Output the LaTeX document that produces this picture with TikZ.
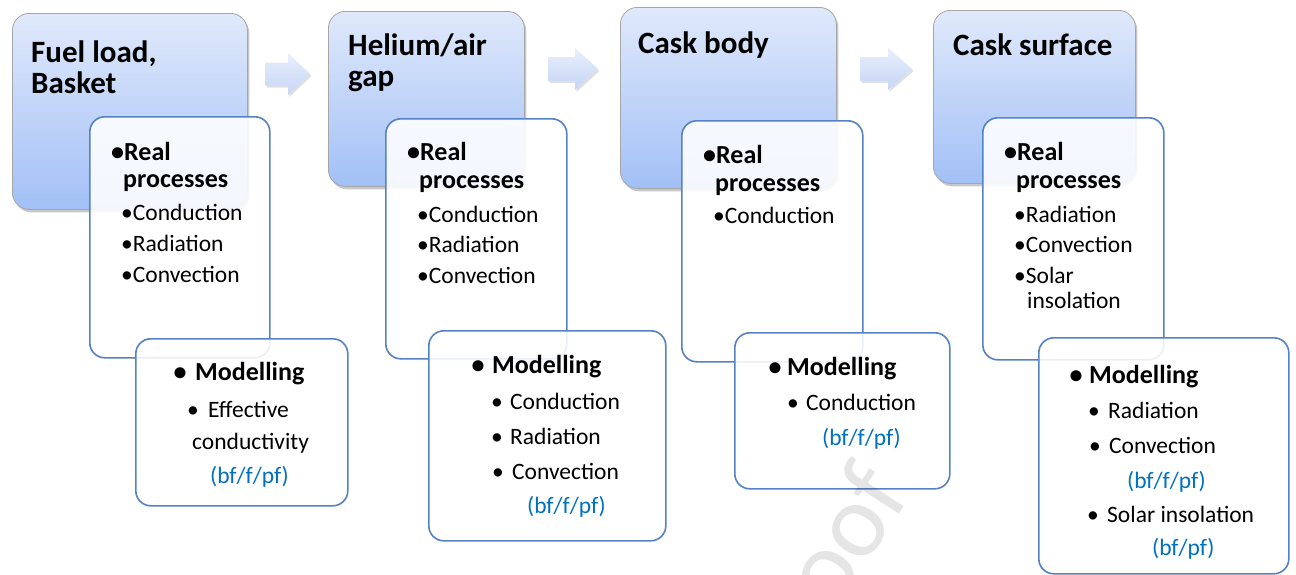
\documentclass[tikz,border=0pt]{standalone}
\usepackage{fontspec}
\setmainfont{Carlito}
\usetikzlibrary{shadows}
\definecolor{boxtop}{RGB}{224,233,251}
\definecolor{boxbot}{RGB}{162,192,246}
\definecolor{edgeblue}{RGB}{84,130,196}
\definecolor{txtblue}{RGB}{0,112,192}
\definecolor{arrtop}{RGB}{232,238,252}
\definecolor{arrbot}{RGB}{198,214,245}
\begin{document}
\begin{tikzpicture}[x=1pt,y=-1pt,
  titlebox/.style={draw=gray!70, line width=0.8pt, rounded corners=17pt,
    top color=boxtop, bottom color=boxbot, anchor=north west, inner sep=0pt,
    drop shadow={shadow xshift=2pt, shadow yshift=-3pt, opacity=0.3, fill=black!70}},
  realbox/.style={draw=edgeblue, line width=1.6pt, rounded corners=15pt,
    fill=white, fill opacity=0.88, anchor=north west, inner sep=0pt},
  blockarrow/.style={top color=arrtop, bottom color=arrbot, draw=none,
    drop shadow={shadow xshift=1.5pt, shadow yshift=-2pt, opacity=0.2, fill=black!60}},
  ttl/.style={font=\fontsize{31}{31}\selectfont\bfseries, inner sep=0pt, anchor=base west},
  hd/.style={font=\fontsize{26}{26}\selectfont\bfseries, inner sep=0pt, anchor=base west},
  itm/.style={font=\fontsize{23.5}{23.5}\selectfont, inner sep=0pt, anchor=base west},
  blu/.style={itm, text=txtblue},
  hdot/.style={font=\fontsize{26}{26}\selectfont\bfseries, inner sep=0pt, anchor=base},
  idot/.style={font=\fontsize{23.5}{23.5}\selectfont, inner sep=0pt, anchor=base}]
\useasboundingbox (0,0) rectangle (1296,574);
\fill[white] (0,0) rectangle (1296,574);

% ---------- column 1 ----------
\node[titlebox, minimum width=235pt, minimum height=196pt] (b1) at (12,13) {};
\node[ttl] (t1a) at (31,62) {Fuel load,};
\node[ttl] (t1b) at (31,93) {Basket};
\node[realbox, minimum width=180pt, minimum height=241pt] (r1) at (89,116) {};
\node[hd] (r1a) at (111,160) {•Real};
\node[hd] (r1b) at (123,187) {processes};
\node[itm] (r1c) at (121,220) {•Conduction};
\node[itm] (r1d) at (121,251) {•Radiation};
\node[itm] (r1e) at (121,282) {•Convection};
\node[realbox, minimum width=212pt, minimum height=167pt] (m1) at (135,338) {};
\node[hdot] (m1d) at (180,380) {•};
\node[hd] (m1a) at (195,380) {Modelling};
\node[idot] (m1e) at (193,417) {•};
\node[itm] (m1b) at (208,417) {Effective};
\node[itm] (m1c) at (192,449) {conductivity};
\node[blu] (m1f) at (210,483) {(bf/f/pf)};

% ---------- column 2 ----------
\node[titlebox, minimum width=196pt, minimum height=175pt] (b2) at (328,11) {};
\node[ttl] (t2a) at (348,55) {Helium/air};
\node[ttl] (t2b) at (348,86) {gap};
\node[realbox, minimum width=181pt, minimum height=240pt] (r2) at (385,118) {};
\node[hd] (r2a) at (407,160) {•Real};
\node[hd] (r2b) at (419,188) {processes};
\node[itm] (r2c) at (417,222) {•Conduction};
\node[itm] (r2d) at (417,252) {•Radiation};
\node[itm] (r2e) at (417,283) {•Convection};
\node[realbox, minimum width=237pt, minimum height=210pt] (m2) at (428,330) {};
\node[hdot] (m2d) at (478,373) {•};
\node[hd] (m2a) at (492,373) {Modelling};
\node[idot] (m2e) at (497,409) {•};
\node[itm] (m2b) at (510,409) {Conduction};
\node[idot] (m2g) at (497,444) {•};
\node[itm] (m2c) at (510,444) {Radiation};
\node[idot] (m2h) at (498,479) {•};
\node[itm] (m2i) at (512,479) {Convection};
\node[blu] (m2f) at (527,513) {(bf/f/pf)};

% ---------- column 3 ----------
\node[titlebox, minimum width=216pt, minimum height=181pt] (b3) at (620,7) {};
\node[ttl] (t3a) at (638,53) {Cask body};
\node[realbox, minimum width=181pt, minimum height=241pt] (r3) at (681,120) {};
\node[hd] (r3a) at (703,163) {•Real};
\node[hd] (r3b) at (715,191) {processes};
\node[itm] (r3c) at (713,223) {•Conduction};
\node[realbox, minimum width=215pt, minimum height=156pt] (m3) at (734,332) {};
\node[hdot] (m3d) at (775,375) {•};
\node[hd] (m3a) at (787,375) {Modelling};
\node[idot] (m3e) at (793,410) {•};
\node[itm] (m3b) at (806,410) {Conduction};
\node[blu] (m3f) at (822,445) {(bf/f/pf)};

% ---------- column 4 ----------
\node[titlebox, minimum width=202pt, minimum height=173pt] (b4) at (933,10) {};
\node[ttl] (t4a) at (953,55) {Cask surface};
\node[realbox, minimum width=181pt, minimum height=242pt] (r4) at (982,117) {};
\node[hd] (r4a) at (1004,160) {•Real};
\node[hd] (r4b) at (1016,188) {processes};
\node[itm] (r4c) at (1014,222) {•Radiation};
\node[itm] (r4d) at (1014,252) {•Convection};
\node[itm] (r4e) at (1014,283) {•Solar};
\node[itm] (r4f) at (1027,308) {insolation};
\node[realbox, minimum width=250pt, minimum height=236pt] (m4) at (1038,337) {};
\node[hdot] (m4d) at (1076,383) {•};
\node[hd] (m4a) at (1089,383) {Modelling};
\node[idot] (m4e) at (1094,418) {•};
\node[itm] (m4b) at (1108,418) {Radiation};
\node[idot] (m4g) at (1095,453) {•};
\node[itm] (m4c) at (1109,453) {Convection};
\node[blu] (m4f) at (1127,488) {(bf/f/pf)};
\node[idot] (m4h) at (1093,522) {•};
\node[itm] (m4i) at (1107,522) {Solar insolation};
\node[blu] (m4j) at (1152,555) {(bf/pf)};

% ---------- block arrows ----------
\path[blockarrow] (265,62.5) -- (288,62.5) -- (288,53) -- (310,74) -- (288,95)
  -- (288,85.5) -- (265,85.5) -- cycle;
\path[blockarrow] (548,57) -- (575,57) -- (575,48) -- (598,69) -- (575,90)
  -- (575,81) -- (548,81) -- cycle;
\path[blockarrow] (860,57) -- (888,57) -- (888,48) -- (912,69) -- (888,90)
  -- (888,81) -- (860,81) -- cycle;

% ---------- watermark ----------
\begin{scope}
\clip (0,0) rectangle (1296,574);
\node[rotate=57, anchor=base east, inner sep=0pt, text=black, text opacity=0.1,
  font=\fontsize{105}{105}\selectfont] (wm) at (912,494) {Journal Pre-proof};
\end{scope}
\end{tikzpicture}
\end{document}
